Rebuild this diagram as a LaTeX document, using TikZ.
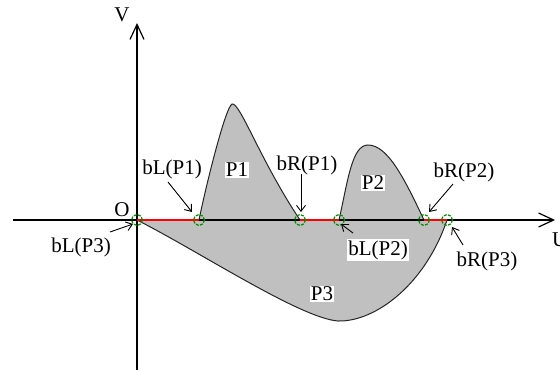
\documentclass[tikz,border=0pt]{standalone}
\usepackage{fontspec}
\setmainfont{Liberation Serif}
\usetikzlibrary{arrows.meta}
\definecolor{fillgray}{RGB}{192,192,192}
\definecolor{ptgreen}{RGB}{0,140,0}
\begin{document}
\begin{tikzpicture}[x=1pt,y=-1pt,
  lbl/.style={font=\fontsize{21}{24}\selectfont, inner sep=1pt},
  wlbl/.style={lbl, fill=white},
  ptc/.style={circle, draw=ptgreen, dash pattern=on 3pt off 1.4pt, line width=1.2pt, minimum size=11pt, inner sep=0pt},
  axisline/.style={line width=1.2pt, -{Straight Barb[length=15pt,width=14pt]}},
  ptr/.style={line width=0.9pt, -{Straight Barb[length=6pt,width=9pt]}},
  outline/.style={line width=1pt, draw=black!85},
  redseg/.style={line width=1.3pt, draw=red}
]
\useasboundingbox (0,0) rectangle (560,370);
% boundary points
\coordinate (p0) at (137,220);
\coordinate (p1) at (199,220);
\coordinate (p2) at (300,220);
\coordinate (p3) at (339,220);
\coordinate (p4) at (424,220);
\coordinate (p5) at (447,220);
% axis ends
\coordinate (xs) at (13,220);
\coordinate (xe) at (555,220);
\coordinate (ys) at (137,370);
\coordinate (ye) at (137,23);
% shapes
\fill[fillgray] (p0) .. controls (200,252) and (300,318) .. (338,321)
  .. controls (375,322) and (425,285) .. (p5) -- cycle;
\draw[outline] (p0) .. controls (200,252) and (300,318) .. (338,321)
  .. controls (375,322) and (425,285) .. (p5);
\fill[fillgray] (p1) .. controls (205,190) and (225,108) .. (232,104)
  .. controls (240,102) and (260,160) .. (p2) -- cycle;
\draw[outline] (p1) .. controls (205,190) and (225,108) .. (232,104)
  .. controls (240,102) and (260,160) .. (p2);
\fill[fillgray] (p3) .. controls (348,180) and (352,145) .. (368,145)
  .. controls (388,145) and (405,180) .. (p4) -- cycle;
\draw[outline] (p3) .. controls (348,180) and (352,145) .. (368,145)
  .. controls (388,145) and (405,180) .. (p4);
% axes
\draw[axisline] (xs) -- (xe);
\draw[axisline] (ys) -- (ye);
% red parts of the axis
\draw[redseg] (p0) -- (p1);
\draw[redseg] (p2) -- (p3);
\draw[redseg] (p4) -- (p5);
% circles
\node[ptc] (c0) at (p0) {};
\node[ptc] (c1) at (p1) {};
\node[ptc] (c2) at (p2) {};
\node[ptc] (c3) at (p3) {};
\node[ptc] (c4) at (p4) {};
\node[ptc] (c5) at (p5) {};
% labels
\node[lbl] (V) at (122,15) {V};
\node[lbl] (U) [anchor=west] at (551,240) {U};
\node[lbl] (O) at (122,210) {O};
\node[lbl] (lbL1) at (172,169) {bL(P1)};
\node[wlbl] (lP1) at (237,170) {P1};
\node[lbl] (lbR1) at (307,165) {bR(P1)};
\node[wlbl] (lP2) at (373,183) {P2};
\node[lbl] (lbR2) at (464,172) {bR(P2)};
\node[wlbl] (lbL2) at (378,250) {bL(P2)};
\node[lbl] (lbR3) at (487,261) {bR(P3)};
\node[lbl] (lbL3) at (81,247) {bL(P3)};
\node[wlbl] (lP3) at (322,294) {P3};
% pointer arrows
\coordinate (a1s) at (168,182); \coordinate (a1e) at (192,212);
\coordinate (a2s) at (301,174); \coordinate (a2e) at (301,212);
\coordinate (a3s) at (453,184); \coordinate (a3e) at (429,212);
\coordinate (a4s) at (353,233); \coordinate (a4e) at (341,224);
\coordinate (a5s) at (463,245); \coordinate (a5e) at (452,227);
\coordinate (a6s) at (110,232); \coordinate (a6e) at (133,224);
\draw[ptr] (a1s) -- (a1e);
\draw[ptr] (a2s) -- (a2e);
\draw[ptr] (a3s) -- (a3e);
\draw[ptr] (a4s) -- (a4e);
\draw[ptr] (a5s) -- (a5e);
\draw[ptr] (a6s) -- (a6e);
\end{tikzpicture}
\end{document}
